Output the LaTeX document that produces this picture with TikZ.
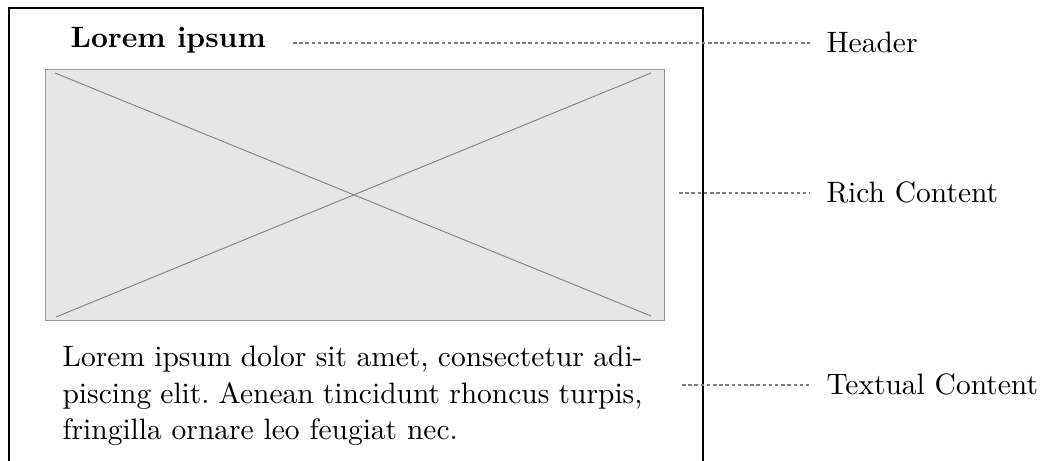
\documentclass[tikz,border=0pt]{standalone}
\tikzset{
  x=0.339pt, y=-0.339pt,
  frame/.style={draw=black, line width=0.75pt},
  imgbox/.style={draw=black!40, fill=black!10, line width=0.4pt},
  crossline/.style={draw=black!50, line width=0.3pt},
  leader/.style={draw=black!50, line width=0.4pt, dash pattern=on 1.2pt off 0.9pt},
  tag/.style={anchor=west, inner xsep=5.4pt, inner ysep=0pt, font=\fontsize{10}{12}\selectfont},
}
\begin{document}
\begin{tikzpicture}
\useasboundingbox (0,0) rectangle (1042,460);
% outer frame
\draw[frame] (9,8) rectangle (703,462.5);
% header
\node[anchor=base west, inner sep=0pt, font=\fontsize{10}{12}\selectfont\bfseries] (head) at (70,47) {Lorem ipsum};
% image placeholder
\node[imgbox, inner sep=0pt, anchor=north west, rectangle, minimum width=209.8pt, minimum height=85.1pt] (img) at (45,69) {};
\coordinate (c1) at (55,73);
\coordinate (c2) at (651,73);
\coordinate (c3) at (56,317);
\coordinate (c4) at (651,316);
\draw[crossline] (c1) -- (c4);
\draw[crossline] (c2) -- (c3);
% paragraph
\node[anchor=north west, inner sep=0pt, text width=196.6pt, align=justify, font=\fontsize{10}{12.37}\selectfont\frenchspacing] (para) at (62,345.5)
  {Lorem ipsum dolor sit amet, consectetur adi-\linebreak piscing elit. Aenean tincidunt rhoncus turpis,\linebreak fringilla ornare leo feugiat nec.};
% labels
\node[tag] (lh) at (810,42) {Header};
\node[tag] (lr) at (810,192) {Rich Content};
\node[tag] (lt) at (810,384) {Textual Content};
\coordinate (sh) at (293,43);
\coordinate (sr) at (679,193);
\coordinate (st) at (682,385);
\draw[leader] (sh) -- (sh -| lh.west);
\draw[leader] (sr) -- (sr -| lr.west);
\draw[leader] (st) -- (st -| lt.west);
\end{tikzpicture}
\end{document}
